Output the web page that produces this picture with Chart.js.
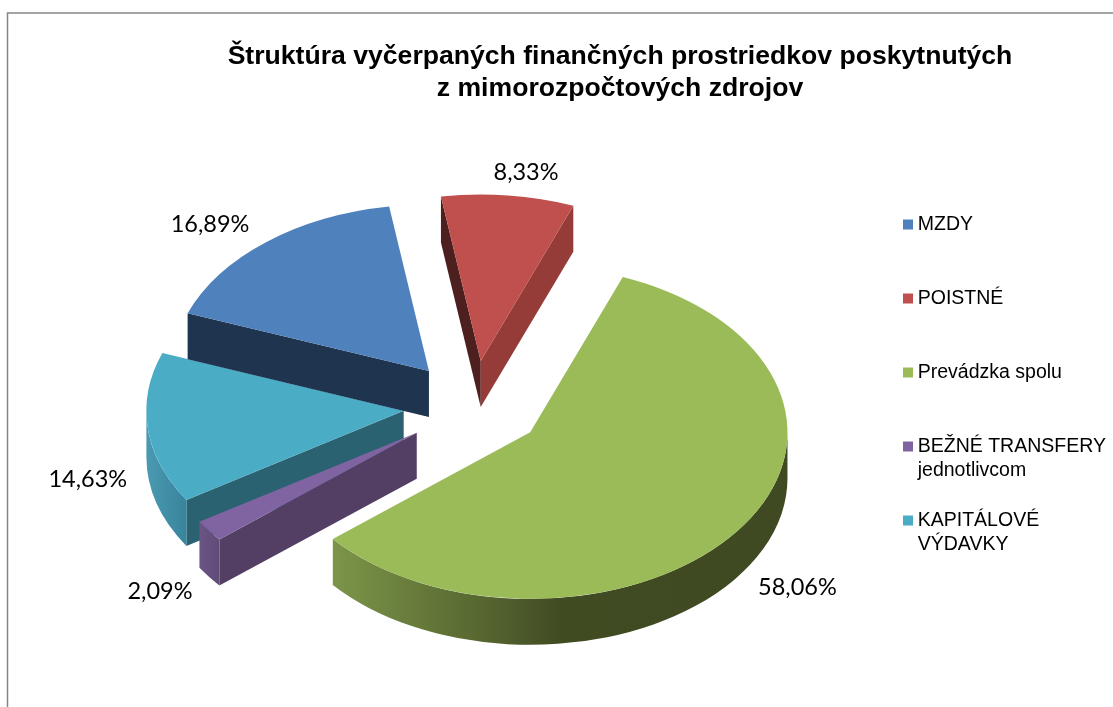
<!DOCTYPE html>
<html lang="sk">
<head>
<meta charset="utf-8">
<title>Štruktúra vyčerpaných finančných prostriedkov</title>
<style>html,body{margin:0;padding:0;background:#fff;overflow:hidden}canvas{display:block}</style>
<script src="https://cdn.jsdelivr.net/npm/chart.js@4/dist/chart.umd.min.js"></script>
</head>
<body>
<canvas id="c" width="1113" height="707"></canvas>
<script>
// ---- data ----
const categories = [['MZDY'], ['POISTNÉ'], ['Prevádzka spolu'], ['BEŽNÉ TRANSFERY', 'jednotlivcom'], ['KAPITÁLOVÉ', 'VÝDAVKY']];
const shares = [16.89, 8.33, 58.06, 2.09, 14.63];
const titleLines = ['Štruktúra vyčerpaných finančných prostriedkov poskytnutých', 'z mimorozpočtových zdrojov'];

// ---- styling ----
const topColors = ['#4F81BD', '#C0504D', '#9BBB59', '#8064A2', '#4BACC6'];
const startWallColors = ['#1F344F', '#4D1F1E', '#3F4A22', '#533E64', '#2B6272'];
const endWallColors = ['#1F344F', '#953C39', '#3F4A22', '#533E64', '#2B6272'];
const rimStops = [
  [['#1F344F', 0], ['#1F344F', 1]],
  [['#953C39', 0], ['#953C39', 1]],
  [['#7C9549', 0], ['#505F2C', 0.38], ['#414B22', 0.5], ['#3F4A22', 1]],
  [['#6B5585', 0], ['#5F4A78', 1]],
  [['#4A9AB2', 0], ['#38849C', 1]]
];
const labelNudges = [[-56, -18], [18, -23], [58, 58], [-49, 61], [-60, 51]];
const drawOrder = [1, 4, 0, 3, 2];
const SQUASH = 0.647, DEPTH = 46, EXPLODE = 70, ROTATION = -69.7;
const LEGEND_FONT = 19.5, LEGEND_STEP = 74, LEGEND_PAD = LEGEND_STEP - LEGEND_FONT;
const LEGEND_LH = 1.25;
const FONT_SANS = '"Liberation Sans", Arial, sans-serif';
const FONT_LABEL = 'Lato, "Open Sans", sans-serif';

function fmt(v) { return v.toFixed(2).replace('.', ',') + '%'; }

function slicePaint(ctx, el, i) {
  const {x, y, startAngle: a0, endAngle: a1, outerRadius: r} = el.getProps(['x', 'y', 'startAngle', 'endAngle', 'outerRadius'], true);
  const mid = (a0 + a1) / 2;
  const cx = x + EXPLODE * Math.cos(mid);
  const cy = y + SQUASH * EXPLODE * Math.sin(mid);
  const pt = a => [cx + r * Math.cos(a), cy + SQUASH * r * Math.sin(a)];
  const wall = (a, color) => {
    const p = pt(a);
    ctx.fillStyle = color;
    ctx.beginPath();
    ctx.moveTo(cx, cy); ctx.lineTo(p[0], p[1]);
    ctx.lineTo(p[0], p[1] + DEPTH); ctx.lineTo(cx, cy + DEPTH);
    ctx.closePath(); ctx.fill();
  };
  // radial walls that face the viewer
  if (Math.sin(a0 - Math.PI / 2) > 0) wall(a0, startWallColors[i]);
  if (Math.sin(a1 + Math.PI / 2) > 0) wall(a1, endWallColors[i]);
  // outer wall: front half of the rim only
  const TAU = Math.PI * 2;
  for (let k = -1; k <= 1; k++) {
    const from = Math.max(a0, k * TAU), to = Math.min(a1, k * TAU + Math.PI);
    if (to <= from) continue;
    const xs = [pt(from)[0], pt(to)[0]];
    const g = ctx.createLinearGradient(Math.min(xs[0], xs[1]), 0, Math.max(xs[0], xs[1]), 0);
    rimStops[i].forEach(s => g.addColorStop(s[1], s[0]));
    ctx.fillStyle = g;
    ctx.beginPath();
    ctx.ellipse(cx, cy, r, SQUASH * r, 0, from, to);
    ctx.ellipse(cx, cy + DEPTH, r, SQUASH * r, 0, to, from, true);
    ctx.closePath(); ctx.fill();
  }
  // top face: the library's own arc, squashed and moved out
  ctx.save();
  ctx.translate(cx, cy);
  ctx.scale(1, SQUASH);
  ctx.translate(-x, -y);
  el.draw(ctx, null);
  ctx.restore();
}

const pie3d = {
  id: 'pie3d',
  beforeDraw(chart) {
    const ctx = chart.ctx;
    ctx.save();
    ctx.strokeStyle = '#868686';
    ctx.lineWidth = 1.5;
    ctx.beginPath();
    ctx.moveTo(7.5, 707); ctx.lineTo(7.5, 13); ctx.lineTo(1113, 13);
    ctx.stroke();
    ctx.restore();
  },
  afterLayout(chart) {
    const lg = chart.legend, tb = chart.titleBlock;
    lg.left = 908 - LEGEND_PAD; lg.right = 1113;
    lg.top = 214.75 - LEGEND_PAD; lg.bottom = 700;
    tb.left = 120; tb.right = 1120;
  },
  beforeDatasetsDraw(chart) {
    const ctx = chart.ctx, arcs = chart.getDatasetMeta(0).data;
    ctx.save();
    drawOrder.forEach(i => slicePaint(ctx, arcs[i], i));
    ctx.restore();
    return false;
  },
  afterDraw(chart) {
    const ctx = chart.ctx, arcs = chart.getDatasetMeta(0).data, lg = chart.legend;
    ctx.save();
    ctx.textBaseline = 'middle';
    // value labels
    ctx.fillStyle = '#000';
    ctx.textAlign = 'center';
    ctx.font = '23.5px ' + FONT_LABEL;
    arcs.forEach((el, i) => {
      const p = el.getProps(['x', 'y', 'startAngle', 'endAngle', 'outerRadius'], true);
      const mid = (p.startAngle + p.endAngle) / 2;
      const rr = p.outerRadius + EXPLODE;
      ctx.fillText(fmt(shares[i]),
        p.x + rr * Math.cos(mid) + labelNudges[i][0],
        p.y + SQUASH * rr * Math.sin(mid) + labelNudges[i][1]);
    });
    // continuation lines of wrapped legend entries
    ctx.textAlign = 'left';
    ctx.font = LEGEND_FONT + 'px ' + FONT_SANS;
    categories.forEach((lines, i) => {
      lines.slice(1).forEach((line, j) => {
        ctx.fillText(line, lg.left + LEGEND_PAD + LEGEND_FONT / 2,
          lg.top + LEGEND_PAD + i * LEGEND_STEP + LEGEND_FONT / 2 + 24 * (j + 1));
      });
    });
    ctx.restore();
  }
};

new Chart(document.getElementById('c'), {
  type: 'pie',
  data: {
    labels: categories.map(c => c.join(' ')),
    datasets: [{data: shares, backgroundColor: topColors, borderWidth: 0}]
  },
  plugins: [pie3d],
  options: {
    responsive: false,
    animation: false,
    rotation: ROTATION,
    layout: {padding: {left: 216, right: 120, top: 0, bottom: 43}},
    plugins: {
      tooltip: {enabled: false},
      title: {
        display: true,
        text: titleLines,
        color: '#000',
        font: {family: FONT_SANS, size: 26.6, weight: 'bold', lineHeight: '32px'},
        padding: {top: 41, bottom: 43}
      },
      legend: {
        display: true,
        position: 'right',
        align: 'start',
        labels: {
          color: '#000',
          font: {family: FONT_SANS, size: LEGEND_FONT, lineHeight: LEGEND_LH},
          usePointStyle: true,
          boxWidth: 0.01,
          boxHeight: 10,
          padding: LEGEND_PAD,
          generateLabels: () => categories.map((c, i) => ({
            text: c[0], fillStyle: topColors[i], strokeStyle: topColors[i],
            lineWidth: 0, pointStyle: 'rect', index: i, hidden: false
          }))
        }
      }
    }
  }
});
</script>
</body>
</html>
